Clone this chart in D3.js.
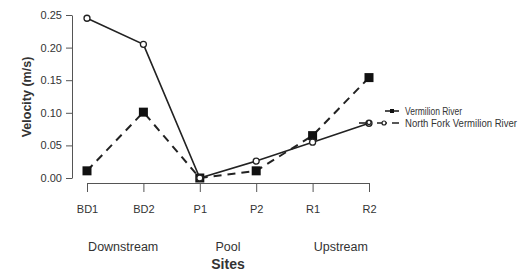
<!DOCTYPE html>
<html>
<head>
<meta charset="utf-8">
<script src="https://cdn.jsdelivr.net/npm/d3@7"></script>
<style>
  body { margin: 0; background: #fff; }
  text { font-family: "Liberation Sans", Arial, sans-serif; fill: #333; }
</style>
</head>
<body>
<div id="chart"></div>
<script>
// data
let sites = ["BD1", "BD2", "P1", "P2", "R1", "R2"];
let vermilion = [0.245, 0.205, 0.0, 0.026, 0.055, 0.084];
let northFork = [0.011, 0.101, 0.0, 0.011, 0.065, 0.154];
let yTicks = [0, 0.05, 0.10, 0.15, 0.20, 0.25];
let groups = ["Downstream", "Pool", "Upstream"];
let groupCenters = [[0, 1], [2, 3], [4, 5]];
let legendNames = ["Vermilion River", "North Fork Vermilion River"];

let width = 522, height = 274;

let svg = d3.select('#chart')
  .append('svg')
  .attr('width', width)
  .attr('height', height)
  .style('background-color', 'white');

// scales
let x = d3.scalePoint().domain(sites).range([87, 369]);
let y = d3.scaleLinear().domain([0, 0.25]).range([178, 15]);

//y axis
let yAxis = svg.append("g")
  .attr("transform", "translate(72,0)")
  .call(d3.axisLeft(y).tickValues(yTicks).tickFormat(d3.format(".2f")).tickSize(6).tickSizeOuter(0));
yAxis.select(".domain").attr("stroke", "#555");
yAxis.selectAll(".tick line").attr("stroke", "#555");
yAxis.selectAll(".tick text").attr("font-size", 11).attr("fill", "#444").attr("x", -10);

//x axis
let xAxis = svg.append("g")
  .attr("transform", "translate(0,183)")
  .call(d3.axisBottom(x).tickSize(9).tickSizeOuter(0));
xAxis.select(".domain").attr("stroke", "#555");
xAxis.selectAll(".tick line").attr("stroke", "#555");
xAxis.selectAll(".tick text").attr("font-size", 11).attr("fill", "#444").attr("y", 22);

// group labels under the ticks
svg.selectAll(".group")
  .data(groups)
  .enter().append("text")
  .attr("class", "group")
  .attr("x", function(d, i) { return (x(sites[groupCenters[i][0]]) + x(sites[groupCenters[i][1]])) / 2 + (i == 0 ? 8 : 0); })
  .attr("y", 251)
  .attr("text-anchor", "middle")
  .attr("font-size", 12.5)
  .text(function(d) { return d; });

// axis titles
svg.append("text")
  .attr("x", 228).attr("y", 269)
  .attr("text-anchor", "middle")
  .attr("font-size", 14).attr("font-weight", "bold")
  .text("Sites");

svg.append("text")
  .attr("transform", "translate(31,97) rotate(-90)")
  .attr("text-anchor", "middle")
  .attr("font-size", 12.5).attr("font-weight", "bold")
  .text("Velocity (m/s)");

let line = d3.line()
  .x(function(d, i) { return x(sites[i]); })
  .y(function(d) { return y(d); });

// North Fork: dashed with filled squares
svg.append("path")
  .datum(northFork)
  .attr("d", line)
  .attr("fill", "none")
  .attr("stroke", "#222")
  .attr("stroke-width", 2)
  .attr("stroke-dasharray", "8,6");

svg.selectAll(".sq")
  .data(northFork)
  .enter().append("rect")
  .attr("class", "sq")
  .attr("x", function(d, i) { return x(sites[i]) - 4.5; })
  .attr("y", function(d) { return y(d) - 4.5; })
  .attr("width", 9).attr("height", 9)
  .attr("fill", "#111");

// Vermilion: solid with open circles
svg.append("path")
  .datum(vermilion)
  .attr("d", line)
  .attr("fill", "none")
  .attr("stroke", "#222")
  .attr("stroke-width", 1.6);

svg.selectAll(".circ")
  .data(vermilion)
  .enter().append("circle")
  .attr("class", "circ")
  .attr("cx", function(d, i) { return x(sites[i]); })
  .attr("cy", function(d) { return y(d); })
  .attr("r", 3)
  .attr("fill", "white")
  .attr("stroke", "#222")
  .attr("stroke-width", 1.3);

// legend
let leg = svg.append("g");
leg.append("line").attr("x1", 385).attr("x2", 399).attr("y1", 111).attr("y2", 111)
  .attr("stroke", "#222").attr("stroke-width", 1.6);
leg.append("rect").attr("x", 390).attr("y", 109).attr("width", 4).attr("height", 4).attr("fill", "#111");

leg.append("line").attr("x1", 359).attr("x2", 367).attr("y1", 123).attr("y2", 123)
  .attr("stroke", "#222").attr("stroke-width", 1.6);
leg.append("circle").attr("cx", 369).attr("cy", 122.5).attr("r", 2)
  .attr("fill", "white").attr("stroke", "#222").attr("stroke-width", 1.2);
leg.append("line").attr("x1", 377).attr("x2", 399).attr("y1", 123).attr("y2", 123)
  .attr("stroke", "#222").attr("stroke-width", 1.6).attr("stroke-dasharray", "10,5");
leg.append("circle").attr("cx", 384).attr("cy", 123).attr("r", 2)
  .attr("fill", "white").attr("stroke", "#222").attr("stroke-width", 1.2);

leg.selectAll(".lt")
  .data(legendNames)
  .enter().append("text")
  .attr("class", "lt")
  .attr("x", 405)
  .attr("y", function(d, i) { return 115 + i * 12; })
  .attr("font-size", 10)
  .attr("textLength", function(d, i) { return i == 0 ? 57 : 112; })
  .attr("lengthAdjust", "spacingAndGlyphs")
  .text(function(d) { return d; });
</script>
</body>
</html>
